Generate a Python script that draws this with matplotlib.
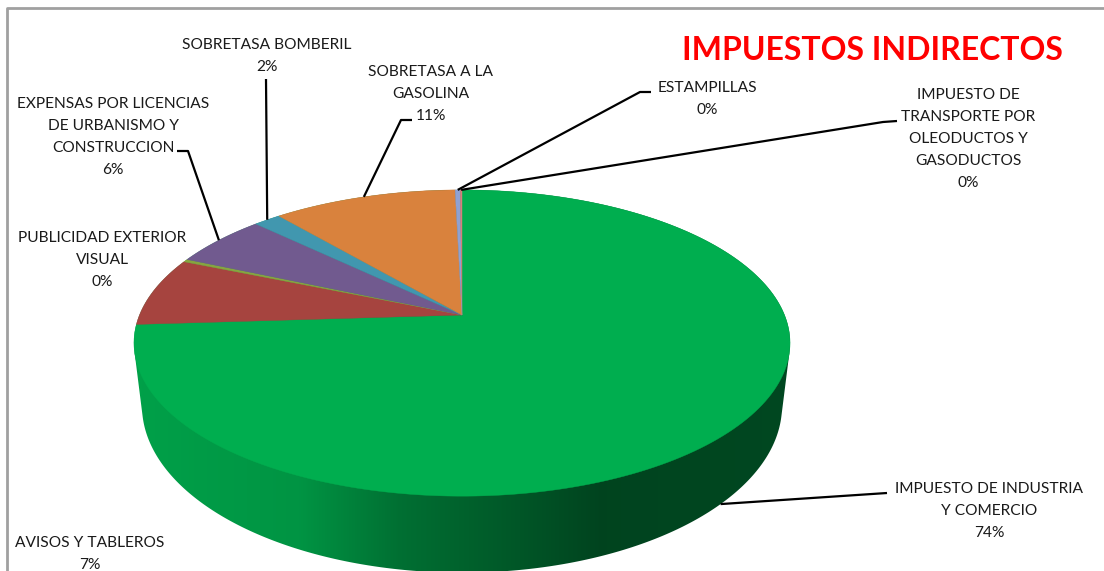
import matplotlib
matplotlib.use('Agg')
import matplotlib.pyplot as plt
from matplotlib.patches import Polygon
import numpy as np

plt.rcParams['font.family'] = ['Lato', 'DejaVu Sans']

# datos del grafico
categories = ['IMPUESTO DE INDUSTRIA\nY COMERCIO', 'AVISOS Y TABLEROS',
              'PUBLICIDAD EXTERIOR\nVISUAL',
              'EXPENSAS POR LICENCIAS\nDE URBANISMO Y\nCONSTRUCCION',
              'SOBRETASA BOMBERIL', 'SOBRETASA A LA\nGASOLINA', 'ESTAMPILLAS',
              'IMPUESTO DE\nTRANSPORTE POR\nOLEODUCTOS Y\nGASODUCTOS']
shares = [74.0, 7.3, 0.3, 5.6, 1.6, 10.8, 0.3, 0.1]
colors = ['#00AE4F', '#A6443F', '#86A540', '#715A8F', '#4197AF', '#D9823D',
          '#8FA1D2', '#D6807C']
title = 'IMPUESTOS INDIRECTOS'

# posicion de las etiquetas (centro del bloque de texto) y codo del conector
label_pos = [(989, 511), (90, 554), (102, 260), (113, 137), (267, 56),
             (431, 94), (707, 99), (968, 139)]
leader_elbow = [[(887, 493), (872, 494)], None, None, [(177, 151), (188, 151)],
                [(266, 79)], [(412, 120), (401, 120)], [(651, 92), (640, 92)],
                [(897, 121), (883, 122)]]

# proyeccion en perspectiva de la cara superior e inferior
TOP = dict(cx=462, cy=315, sx=322.5, sy=148, k=0.183)
BOT = dict(cx=462, cy=379, sx=315.9, sy=162.7, k=0.16)


def proj(phi, p):
    X, Y = np.cos(phi), np.sin(phi)
    w = 1 + p['k'] * Y
    return p['cx'] + p['sx'] * X / w, p['cy'] - p['sy'] * Y / w


def hull(pts):
    pts = sorted(set(map(tuple, np.round(pts, 3))))
    def cross(o, a, b):
        return (a[0]-o[0])*(b[1]-o[1]) - (a[1]-o[1])*(b[0]-o[0])
    lo, up = [], []
    for p in pts:
        while len(lo) >= 2 and cross(lo[-2], lo[-1], p) <= 0:
            lo.pop()
        lo.append(p)
    for p in reversed(pts):
        while len(up) >= 2 and cross(up[-2], up[-1], p) <= 0:
            up.pop()
        up.append(p)
    return lo[:-1] + up[:-1]


# sombreado del costado segun x
shade_x = [140, 300, 400, 500, 600, 780]
shade_f = [0.92, 0.85, 0.64, 0.52, 0.39, 0.41]

fig = plt.figure(figsize=(11.04, 5.71), dpi=100)
ax = fig.add_axes([0, 0, 1, 1])
ax.set_xlim(0, 1104)
ax.set_ylim(571, 0)
ax.axis('off')

frac = np.array(shares) / sum(shares)
bounds = np.radians(90 - 360 * np.concatenate([[0], np.cumsum(frac)]))

# costado: envolvente de las dos caras con degradado horizontal
ph = np.linspace(0, 2 * np.pi, 721)
tx, ty = proj(ph, TOP)
bx, by = proj(ph, BOT)
side = Polygon(hull(np.column_stack([np.r_[tx, bx], np.r_[ty, by]])),
               closed=True, facecolor='none', edgecolor='none')
ax.add_patch(side)
gx = np.linspace(120, 800, 400)
base = np.array(matplotlib.colors.to_rgb(colors[0]))
grad = np.interp(gx, shade_x, shade_f)[None, :, None] * base[None, None, :]
grad = np.repeat(grad, 2, axis=0)
im = ax.imshow(grad, extent=(120, 800, 580, 170), aspect='auto',
               interpolation='bilinear', zorder=1)
im.set_clip_path(side)

# cara superior
for i, c in enumerate(colors):
    ph = np.linspace(bounds[i], bounds[i + 1], 200)
    xs, ys = proj(ph, TOP)
    pts = [(TOP['cx'], TOP['cy'])] + list(zip(xs, ys))
    ax.add_patch(Polygon(pts, closed=True, facecolor=c, edgecolor=c,
                         lw=0.3, zorder=2))

# etiquetas y conectores
for i, cat in enumerate(categories):
    lx, ly = label_pos[i]
    ax.text(lx, ly, f'{cat}\n{shares[i]:.0f}%', ha='center', va='center',
            fontsize=11.2, color='#1a1a1a', linespacing=1.72, zorder=4)
    if leader_elbow[i] is None:
        continue
    pm = 0.5 * (bounds[i] + bounds[i + 1])
    ax_, ay_ = proj(pm, BOT if np.sin(pm) < 0 else TOP)
    pts = leader_elbow[i] + [(ax_, ay_)]
    ax.plot([p[0] for p in pts], [p[1] for p in pts], color='black', lw=1.6,
            zorder=3, solid_capstyle='butt')

ax.text(872, 50, title, ha='center', va='center', fontsize=23,
        fontweight='bold', color='#FF0000', zorder=4)

# marco
ax.plot([7, 7, 1104], [571, 8, 8], color='#A0A0A0', lw=2, zorder=5)

fig.savefig('out.png', dpi=100)
